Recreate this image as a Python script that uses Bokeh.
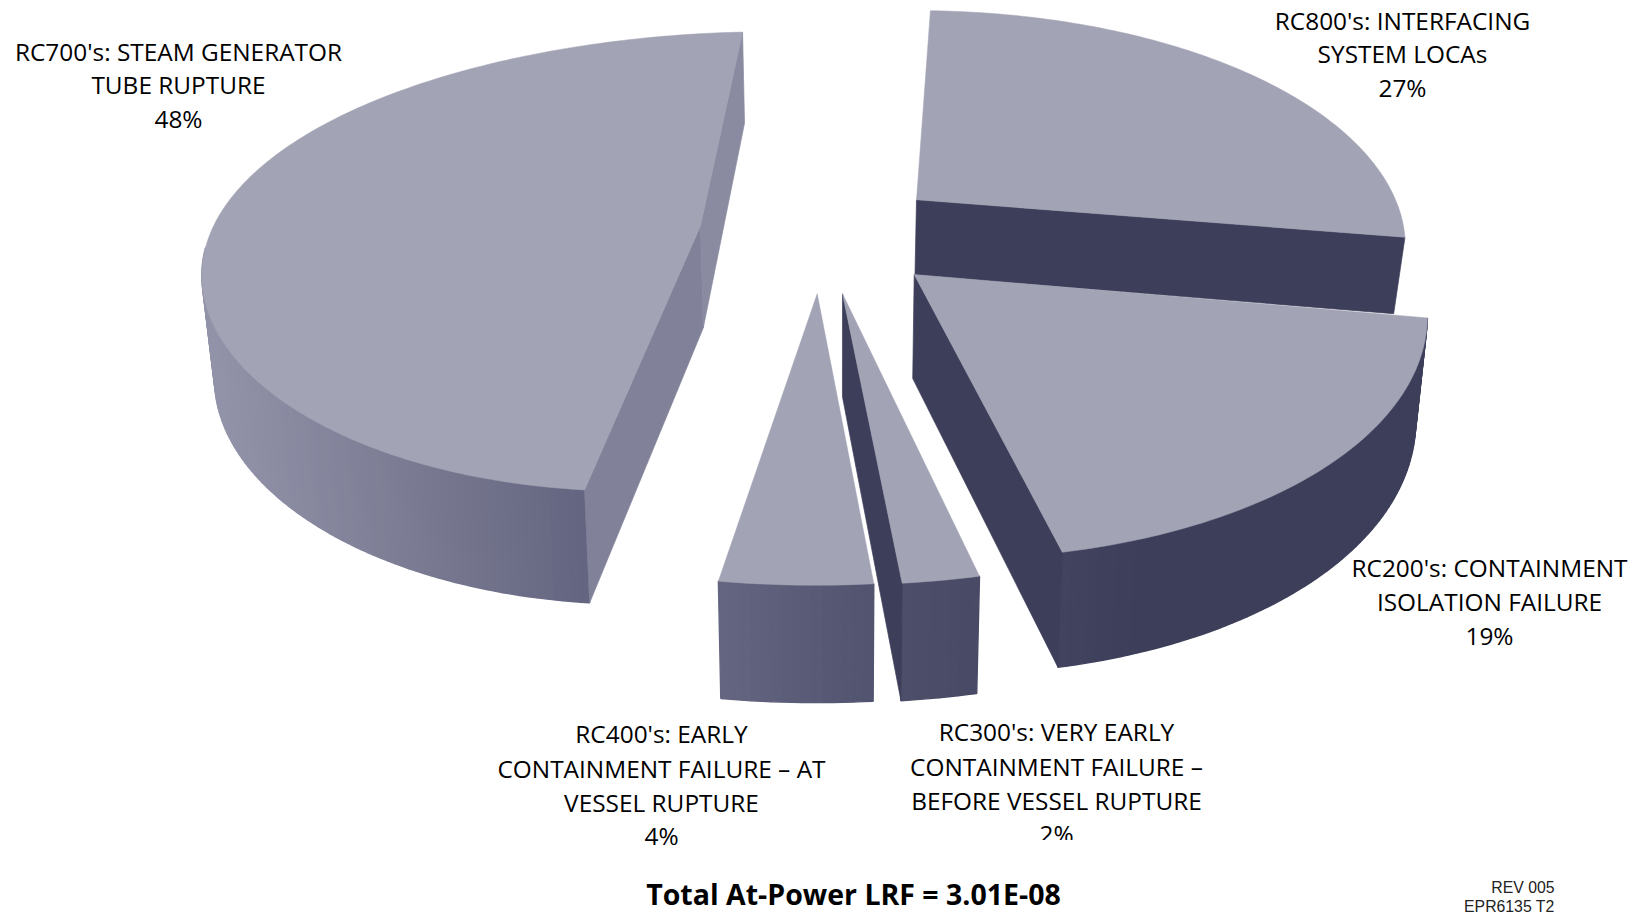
import numpy as np
from bokeh.plotting import figure
from bokeh.models import Range1d, ColumnDataSource
from bokeh.core.properties import value
from bokeh.embed import file_html
from bokeh.resources import INLINE

# ---------- data ----------
categories = ["RC800's", "RC200's", "RC300's", "RC400's", "RC700's"]
shares = [27, 19, 2, 4, 48]
total_label = "Total At-Power LRF = 3.01E-08"
label_lines = [
    ["RC800's: INTERFACING", "SYSTEM LOCAs", "27%"],
    ["RC200's: CONTAINMENT", "ISOLATION FAILURE", "19%"],
    ["RC300's: VERY EARLY", "CONTAINMENT FAILURE \u2013", "BEFORE VESSEL RUPTURE", "2%"],
    ["RC400's: EARLY", "CONTAINMENT FAILURE \u2013 AT", "VESSEL RUPTURE", "4%"],
    ["RC700's: STEAM GENERATOR", "TUBE RUPTURE", "48%"],
]
rev_lines = ["REV 005", "EPR6135 T2"]

# ---------- layout of the exploded 3-D pie (canvas uses reference pixels) ----------
START_DEG = 88.0
apex_x = [916.0, 913.7, 842.0, 816.7, 700.0]
apex_y = [199.3, 274.0, 293.3, 293.3, 225.3]
rad_a = [479.0, 507.5, 563.4, 559.0, 494.0]
rad_e = [0.0, -25.3, -2.7, -0.3, 28.2]
rad_b = [227.0, 256.2, 262.2, 262.3, 223.4]
rad_f = [0.0, -1.8, 5.5, 0.8, 18.3]
persp_x = [0.2, 0.1, 0.1, 0.1, 0.08]
persp_y = [0.2, 0.1, 0.1, 0.1, 0.156]
depth0 = [75.0, 104.0, 103.0, 105.0, 102.0]
depth_g = [-9.0, -11.3, -14.5, -12.4, -11.0]
VP_X, VP_F = 840.0, 0.02
draw_order = [0, 4, 1, 2, 3]
show_outer = [False, True, True, True, True]
start_wall = [None, None, None, None, "#81829A"]
end_wall = ["#3D3F5A", "#3D3F5A", "#3D3F5A", None, "#8A8BA0"]
TOP = "#A2A3B5"
shade_x = [216, 400, 590, 720, 870, 900, 976, 1056, 1150]
shade_r = [146, 124, 99, 101, 82, 78, 73, 67, 61]
shade_g = [147, 125, 100, 102, 84, 80, 74, 68, 63]
shade_b = [169, 148, 127, 129, 112, 107, 101, 95, 90]

# ---------- fonts / text placement ----------
LABEL_FONT = "Open Sans"
LABEL_SIZE = "24.4px"
label_cx = [1402, 1489, 1056, 661, 178]
label_y = [[19.5, 52.5, 86.5], [566.5, 600.5, 634.5], [730.5, 765.5, 799.5, 832.5],
           [732.5, 767.5, 801.5, 834.5], [50.5, 83.5, 117.5]]

p = figure(width=1640, height=914, output_backend="svg", toolbar_location=None,
           x_range=Range1d(0, 1640), y_range=Range1d(914, 0), min_border=0,
           background_fill_color="white", border_fill_color="white")
p.axis.visible = False
p.grid.visible = False
p.outline_line_color = None


def rim(i, deg):
    t = np.radians(deg)
    c, s = np.cos(t), np.sin(t)
    sx = 1 / (1 + persp_x[i] * s)
    sy = 1 / (1 + persp_y[i] * s)
    return (apex_x[i] + (rad_a[i] * c + rad_e[i] * s) * sx,
            apex_y[i] - (rad_b[i] * s + rad_f[i] * c) * sy,
            s)


def drop(i, x, y, s):
    return x + (VP_X - x) * VP_F, y + depth0[i] + depth_g[i] * s


def shade(x):
    r = int(np.interp(x, shade_x, shade_r))
    g = int(np.interp(x, shade_x, shade_g))
    b = int(np.interp(x, shade_x, shade_b))
    return f"#{r:02x}{g:02x}{b:02x}"


def slab(xs, ys, color):
    p.patch(xs, ys, fill_color=color, line_color=color, line_width=0.7)


spans = [3.6 * v for v in shares]
bounds = START_DEG - np.concatenate([[0], np.cumsum(spans)])

for i in draw_order:
    t0, t1 = bounds[i], bounds[i + 1]
    angs = np.linspace(t0, t1, int(abs(t1 - t0)) + 2)
    xt, yt, st = rim(i, angs)
    xb, yb = drop(i, xt, yt, st)
    ax, ay = apex_x[i], apex_y[i]
    abx, aby = drop(i, ax, ay, 0.0)
    # outer curved wall, shaded strip by strip (front part only)
    px, py, cols = [], [], []
    for k in range(len(angs) - 1):
        if not show_outer[i] or (st[k] > -0.02 and st[k + 1] > -0.02):
            continue
        px.append([xt[k], xt[k + 1], xb[k + 1], xb[k]])
        py.append([yt[k], yt[k + 1], yb[k + 1], yb[k]])
        cols.append(shade((xt[k] + xt[k + 1]) / 2))
    if px:
        p.patches(px, py, fill_color=cols, line_color=cols, line_width=1.4)
    # radial cut faces
    if start_wall[i]:
        slab([ax, xt[0], xb[0], abx], [ay, yt[0], yb[0], aby], start_wall[i])
    if end_wall[i]:
        slab([ax, xt[-1], xb[-1], abx], [ay, yt[-1], yb[-1], aby], end_wall[i])
    # top face
    p.patch(np.r_[ax, xt], np.r_[ay, yt], fill_color=TOP, line_color=TOP, line_width=0.5)

# labels
tx, ty, tt = [], [], []
for cx, ys, lines in zip(label_cx, label_y, label_lines):
    for y, line in zip(ys, lines):
        tx.append(cx); ty.append(y); tt.append(line)
p.text(x="x", y="y", text="t", source=ColumnDataSource(dict(x=tx, y=ty, t=tt)),
       text_font=value(LABEL_FONT), text_font_size=LABEL_SIZE, text_align="center",
       text_baseline="middle", text_color="black")
# the "2%" line is cut off along its lower edge in the source
p.quad(left=[1030], right=[1085], top=[839.5], bottom=[852], fill_color="white", line_color=None)

p.text(x=[853], y=[893], text=[total_label], text_font=value(LABEL_FONT),
       text_font_size="28.5px", text_font_style="bold", text_align="center",
       text_baseline="middle", text_color="black")
p.text(x=[1554, 1554], y=[887, 906], text=rev_lines, text_font=value("Liberation Sans"),
       text_font_size="15.8px", text_align="right", text_baseline="middle", text_color="#222222")

open("out.html", "w").write(file_html(p, INLINE))
